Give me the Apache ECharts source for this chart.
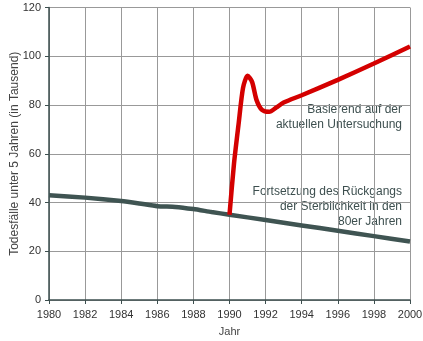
<!DOCTYPE html>
<html><head><meta charset="utf-8">
<script src="https://cdn.jsdelivr.net/npm/echarts@6/dist/echarts.min.js"></script>
<style>html,body{margin:0;padding:0;background:#fff}#c{width:423px;height:341px}</style>
</head><body><div id="c"></div>
<script>
const xTicks = [1980,1982,1984,1986,1988,1990,1992,1994,1996,1998,2000];
const yTicks = [0,20,40,60,80,100,120];
const trendYears = [1980,1982,1984,1985,1986,1987,1988,1989,1990,1992,1994,1996,1998,2000];
const trendValues = [43,42,40.6,39.6,38.5,38.2,37.3,36.1,35,32.8,30.6,28.4,26.2,24];
const studyYears = [1990,1990.25,1990.5,1990.75,1991,1991.25,1991.5,1991.8,1992.2,1992.6,1993,1994,1996,1998,2000];
const studyValues = [35,56,72,87,92,89.5,82,78,77.2,79,81,84,90.3,97,104];
const labelStudy = ['Basierend auf der','aktuellen Untersuchung'];
const labelTrend = ['Fortsetzung des Rückgangs','der Sterblichkeit in den','80er Jahren'];

const zip = (a,b)=>a.map((v,i)=>[v,b[i]]);
const chart = echarts.init(document.getElementById('c'), null, {renderer:'canvas'});
const font = 'Liberation Sans, Arial, sans-serif';
const axisCol = '#3d4f4f';
chart.setOption({
  animation:false,
  backgroundColor:'#fff',
  grid:{left:49,right:13,top:7.5,bottom:41,containLabel:false,outerBoundsMode:'none'},
  xAxis:{type:'value',min:xTicks[0],max:xTicks[xTicks.length-1],interval:2,
    name:'Jahr',nameLocation:'middle',nameGap:26,nameMoveOverlap:false,
    nameTextStyle:{color:'#444',fontSize:11,fontFamily:font},
    axisLine:{show:true,lineStyle:{color:axisCol,width:1.5}},
    axisTick:{show:true,length:4,lineStyle:{color:axisCol}},
    axisLabel:{color:'#333',fontSize:11,fontFamily:font,margin:9,formatter:v=>String(v)},
    splitLine:{show:true,lineStyle:{color:'#999',width:1}}},
  yAxis:{type:'value',min:yTicks[0],max:yTicks[yTicks.length-1],interval:20,
    name:'Todesfälle unter 5 Jahren (in Tausend)',nameLocation:'middle',nameGap:28,nameMoveOverlap:false,
    nameTextStyle:{color:'#444',fontSize:12,fontFamily:font},
    axisLine:{show:true,lineStyle:{color:axisCol,width:1.5}},
    axisTick:{show:true,length:4,lineStyle:{color:axisCol}},
    axisLabel:{color:'#333',fontSize:11,fontFamily:font,margin:8},
    splitLine:{show:true,lineStyle:{color:'#999',width:1}}},
  series:[
    {type:'line',data:zip(trendYears,trendValues),showSymbol:false,smooth:0.2,
      lineStyle:{color:'#3f5452',width:4.5},z:3},
    {type:'line',data:zip(studyYears,studyValues),showSymbol:false,smooth:0.25,
      lineStyle:{color:'#d40000',width:4.5},z:4}
  ],
  graphic:[
    {type:'text',x:402,y:102,style:{text:labelStudy.join('\n'),fill:axisCol,font:'12px '+font,textAlign:'right',align:'right',lineHeight:15}},
    {type:'text',x:402,y:184,style:{text:labelTrend.join('\n'),fill:axisCol,font:'12px '+font,textAlign:'right',align:'right',lineHeight:15}}
  ]
});
</script></body></html>
